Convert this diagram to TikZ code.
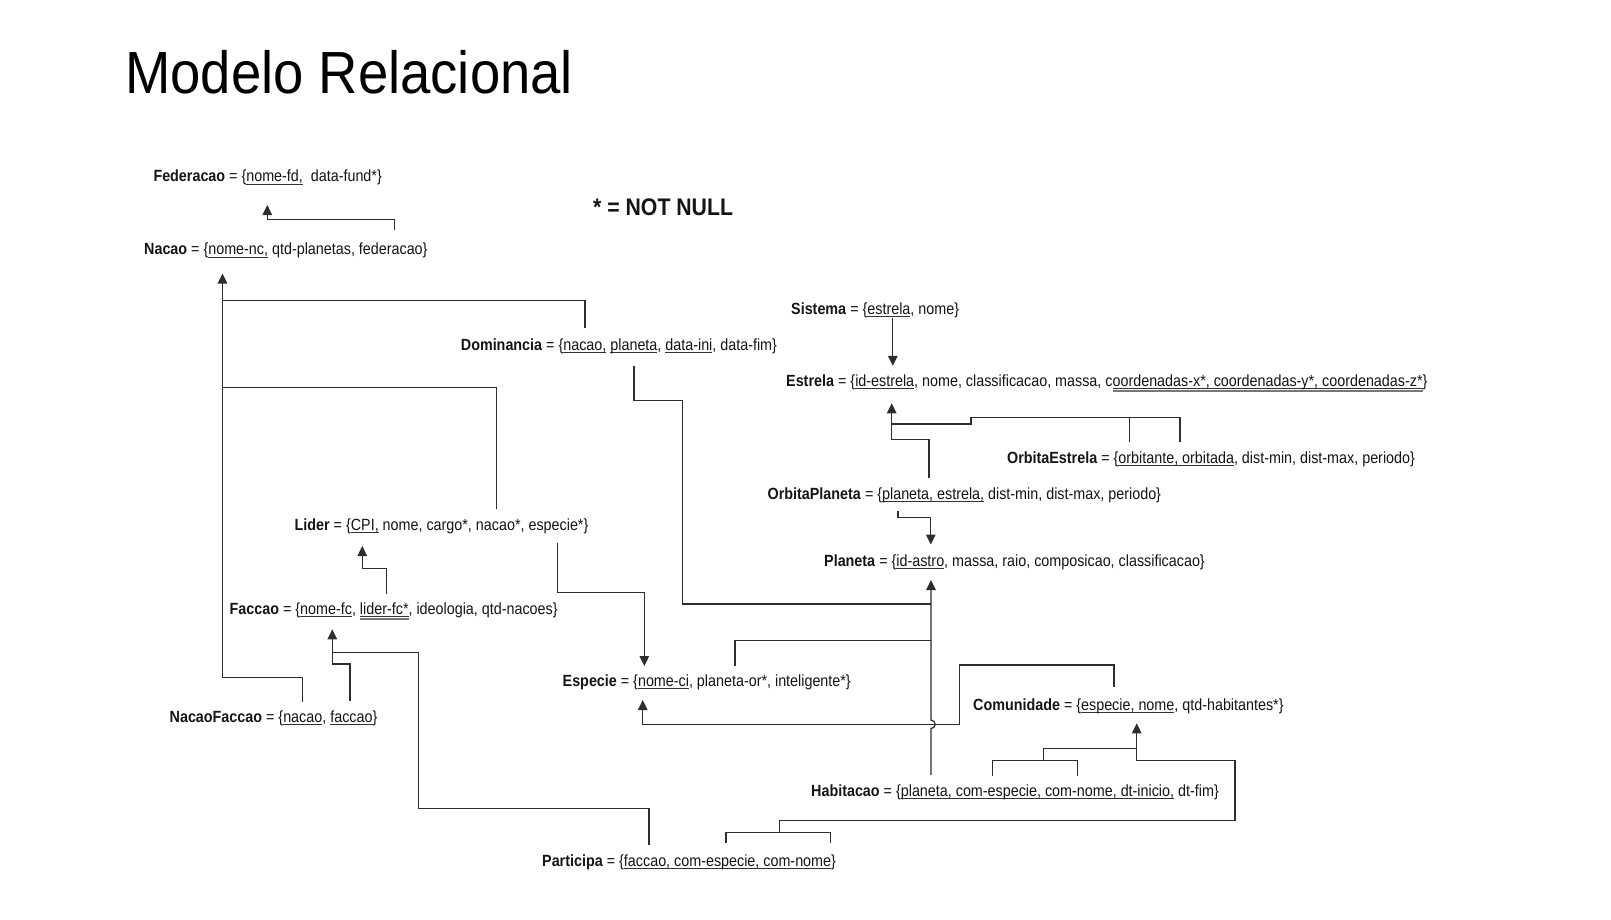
\documentclass[tikz,border=0pt]{standalone}
\usepackage{fontspec}
\setmainfont[FakeStretch=0.885]{Liberation Sans}
\newfontfamily\titlefont[FakeStretch=0.915]{Liberation Sans}
\usetikzlibrary{arrows.meta}
\definecolor{txt}{HTML}{151515}
\definecolor{ln}{HTML}{2E2E2E}
\definecolor{ulc}{HTML}{333333}
\definecolor{ulc2}{HTML}{777777}
\newsavebox\ulbox
\newcommand\uln[1]{\sbox\ulbox{#1}\rlap{\color{ulc}\rule[-2.6pt]{\wd\ulbox}{0.9pt}}\usebox\ulbox}
\newcommand\dln[1]{\sbox\ulbox{#1}\rlap{\color{ulc}\rule[-2.6pt]{\wd\ulbox}{0.9pt}}\rlap{\color{ulc2}\rule[-5.8pt]{\wd\ulbox}{1.7pt}}\usebox\ulbox}
\begin{document}
\begin{tikzpicture}[x=1pt,y=-1pt,
  rel/.style={anchor=base west,inner sep=0pt,font=\fontsize{16.2}{19}\selectfont,text=txt},
  conn/.style={draw=ln,line width=1.25pt},
  arr/.style={-{Triangle[length=10pt,width=9.5pt]}}]
\fill[white] (0,0) rectangle (1611,919);
\useasboundingbox (0,0) rectangle (1611,919);

\node[anchor=base west,inner sep=0pt,font=\titlefont\fontsize{59.5}{66}\selectfont,text=black] (title) at (125,93.3) {Modelo Relacional};
\node[anchor=base west,inner sep=0pt,font=\fontsize{24}{28}\selectfont\bfseries,text=txt] (nn) at (593,215) {* = NOT NULL};

\node[rel] (fed) at (153.3,181.8) {\textbf{Federacao} = \{\uln{nome-fd,}~ data-fund*\}};
\node[rel] (nac) at (144,254.8) {\textbf{Nacao} = \{\uln{nome-nc,} qtd-planetas, federacao\}};
\node[rel] (sis) at (791,314.5) {\textbf{Sistema} = \{\uln{estrela}, nome\}};
\node[rel] (dom) at (460.7,350.5) {\textbf{Dominancia} = \{\uln{nacao,} \uln{planeta}, \uln{data-ini}, data-fim\}};
\node[rel] (est) at (786,386) {\textbf{Estrela} = \{\uln{id-estrela}, nome, classificacao, massa, c\dln{oordenadas-x*, coordenadas-y*, coordenadas-z*}\}};
\node[rel] (oe) at (1007,463.5) {\textbf{OrbitaEstrela} = \{\uln{orbitante, orbitada}, dist-min, dist-max, periodo\}};
\node[rel] (op) at (767.5,499) {\textbf{OrbitaPlaneta} = \{\uln{planeta, estrela,} dist-min, dist-max, periodo\}};
\node[rel] (pla) at (824,566.5) {\textbf{Planeta} = \{\uln{id-astro}, massa, raio, composicao, classificacao\}};
\node[rel] (lid) at (294.5,530.5) {\textbf{Lider} = \{\uln{CPI,} nome, cargo*, nacao*, especie*\}};
\node[rel] (fac) at (229.5,614.3) {\textbf{Faccao} = \{\uln{nome-fc}, \dln{lider-fc*}, ideologia, qtd-nacoes\}};
\node[rel] (nf) at (169.5,722.7) {\textbf{NacaoFaccao} = \{\uln{nacao}, \uln{faccao}\}};
\node[rel] (esp) at (562.5,686.7) {\textbf{Especie} = \{\uln{nome-ci}, planeta-or*, inteligente*\}};
\node[rel] (com) at (973,710) {\textbf{Comunidade} = \{\uln{especie, nome}, qtd-habitantes*\}};
\node[rel] (hab) at (811,796) {\textbf{Habitacao} = \{\uln{planeta, com-especie, com-nome, dt-inicio,} dt-fim\}};
\node[rel] (par) at (542,866) {\textbf{Participa} = \{\uln{faccao, com-especie, com-nome}\}};

% named connector ends
\coordinate (nacF) at (394.3,230);
\coordinate (fedIn) at (267.3,205);
\coordinate (domN) at (585,328.3);
\coordinate (nacIn) at (222.5,273.5);
\coordinate (lidN) at (496.7,509.3);
\coordinate (nfN) at (302.7,701.7);
\coordinate (sisE) at (892.8,317.5);
\coordinate (estIn) at (892.8,365.8);
\coordinate (oe1) at (1129.3,441.7);
\coordinate (oe2) at (1180,441.7);
\coordinate (opE) at (929,478.3);
\coordinate (estIn2) at (891.7,403.3);
\coordinate (opP) at (898,510.6);
\coordinate (plaIn) at (930.8,544.5);
\coordinate (domP) at (634,365.8);
\coordinate (espP) at (735,666);
\coordinate (habP) at (931,775);
\coordinate (plaIn2) at (931,580);
\coordinate (lidE) at (557.3,542.7);
\coordinate (espIn) at (644.3,666);
\coordinate (comE) at (1114,686.7);
\coordinate (espIn2) at (642.7,700);
\coordinate (facL) at (386.7,594);
\coordinate (lidIn) at (362.3,546);
\coordinate (nfF) at (350,701);
\coordinate (facIn) at (332.3,629.3);
\coordinate (parF) at (649,845);
\coordinate (hab1) at (992.3,776);
\coordinate (hab2) at (1077.3,776);
\coordinate (par1) at (726,842.7);
\coordinate (par2) at (830.7,842.7);
\coordinate (comIn) at (1136.7,723.3);

% Nacao -> Federacao
\draw[conn,arr] (nacF) -- (394.3,219.3) -| (fedIn);
% Dominancia, Lider, NacaoFaccao -> Nacao
\draw[conn] (domN) -- (585,300.7) -- (222.5,300.7);
\draw[conn] (lidN) -- (496.7,387.3) -- (222.5,387.3);
\draw[conn,arr] (nfN) -- (302.7,677.7) -| (nacIn);
% Sistema -> Estrela
\draw[conn,arr] (sisE) -- (estIn);
% OrbitaEstrela -> Estrela
\draw[conn] (oe1) -- (1129.3,417.3);
\draw[conn] (oe2) -- (1180,417.3) -- (971,417.3) -- (971,424) -- (891.7,424);
% OrbitaPlaneta -> Estrela
\draw[conn,arr] (opE) -- (929,439.3) -| (estIn2);
% OrbitaPlaneta -> Planeta
\draw[conn,arr] (opP) -- (898,517.8) -| (plaIn);
% Dominancia -> Planeta
\draw[conn] (domP) -- (634,400.7) -- (682.5,400.7) -- (682.5,604) -- (931,604);
% Especie -> Planeta
\draw[conn] (espP) -- (735,640.7) -- (931,640.7);
% Habitacao -> Planeta (jump over)
\draw[conn,arr] (habP) -- (931,728.5) arc[start angle=90,end angle=-90,radius=4.2] -- (plaIn2);
% Lider -> Especie
\draw[conn,arr] (lidE) -- (557.3,592.3) -| (espIn);
% Comunidade -> Especie
\draw[conn,arr] (comE) -- (1114,665) -- (959.3,665) -- (959.3,724.3) -| (espIn2);
% Faccao -> Lider
\draw[conn,arr] (facL) -- (386.7,568.3) -| (lidIn);
% NacaoFaccao -> Faccao
\draw[conn,arr] (nfF) -- (350,664) -| (facIn);
% Participa -> Faccao
\draw[conn] (parF) -- (649,808.3) -- (418.3,808.3) -- (418.3,652.7) -- (332.3,652.7);
% Habitacao -> Comunidade
\draw[conn] (hab1) -- (992.3,760.7) -- (1077.3,760.7) -- (hab2);
\draw[conn] (1043.3,760.7) -- (1043.3,748.3) -- (1136.7,748.3);
% Participa -> Comunidade
\draw[conn] (par1) -- (726,832.3) -- (830.7,832.3) -- (par2);
\draw[conn,arr] (779.3,832.3) -- (779.3,820.7) -- (1235,820.7) -- (1235,760.7) -- (1136.7,760.7) -- (comIn);
\end{tikzpicture}
\end{document}
